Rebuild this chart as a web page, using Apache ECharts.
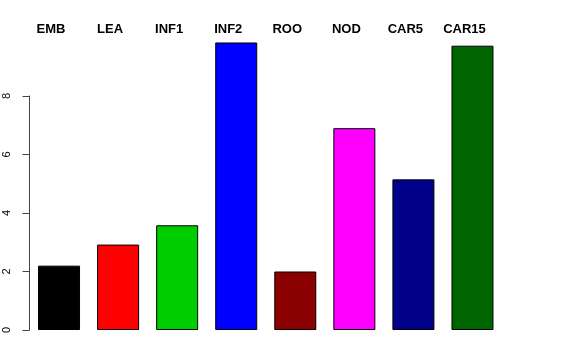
<!DOCTYPE html>
<html>
<head>
<meta charset="utf-8">
<script src="https://cdn.jsdelivr.net/npm/echarts@6/dist/echarts.min.js"></script>
<style>html,body{margin:0;padding:0;background:#fff;}#c{width:576px;height:360px;}</style>
</head>
<body>
<div id="c"></div>
<script>
var categories = ['EMB', 'LEA', 'INF1', 'INF2', 'ROO', 'NOD', 'CAR5', 'CAR15'];
var values = [2.2, 2.92, 3.58, 9.83, 2.0, 6.9, 5.15, 9.72];
var barColors = ['#000000', '#ff0000', '#00cd00', '#0000ff', '#8b0000', '#ff00ff', '#00008b', '#006400'];
var yTicks = [0, 2, 4, 6, 8];

var chart = echarts.init(document.getElementById('c'), null, {renderer: 'canvas'});
chart.setOption({
  animation: false,
  backgroundColor: '#ffffff',
  grid: {left: 29.5, right: 74, top: 96, bottom: 30, containLabel: false},
  xAxis: {
    type: 'category',
    position: 'top',
    data: categories,
    axisLine: {show: false},
    axisTick: {show: false},
    axisLabel: {
      interval: 0,
      margin: 60,
      padding: [0, 16, 0, 0],
      fontFamily: 'Liberation Sans, Arial, sans-serif',
      fontWeight: 'bold',
      fontSize: 13,
      color: '#000'
    }
  },
  yAxis: {
    type: 'value',
    min: yTicks[0],
    max: yTicks[yTicks.length - 1],
    interval: 2,
    splitLine: {show: false},
    axisLine: {show: true, lineStyle: {color: '#444', width: 1}},
    axisTick: {show: true, length: 7, lineStyle: {color: '#444', width: 1}},
    axisLabel: {
      rotate: 90,
      margin: 17,
      fontFamily: 'Liberation Sans, Arial, sans-serif',
      fontSize: 11,
      color: '#000'
    }
  },
  series: [{
    type: 'bar',
    clip: false,
    barWidth: 42,
    data: values.map(function (v, i) {
      return {value: v, itemStyle: {color: barColors[i]}};
    }),
    itemStyle: {borderColor: '#000', borderWidth: 1}
  }]
});
</script>
</body>
</html>
